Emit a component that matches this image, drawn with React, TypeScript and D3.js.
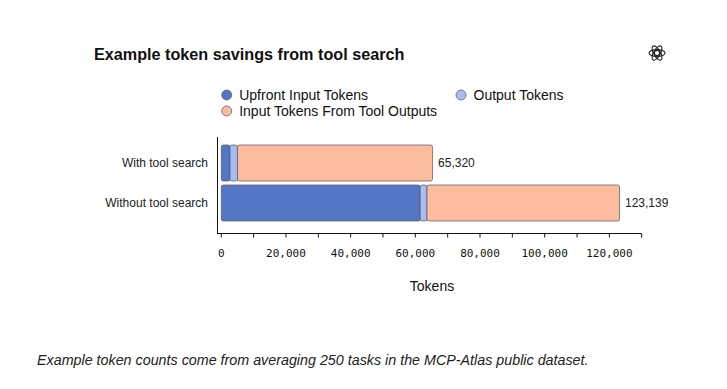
import React from "react";
import * as d3 from "d3";

const categories = ["With tool search", "Without tool search"];
const seriesNames = ["Upfront Input Tokens", "Output Tokens", "Input Tokens From Tool Outputs"];
const upfrontInput = [2700, 61500];
const outputTokens = [2300, 2100];
const toolOutputInput = [60320, 59539];
const xTicks = [0, 10000, 20000, 30000, 40000, 50000, 60000, 70000, 80000, 90000, 100000, 110000, 120000, 130000];
const xTickLabels = [0, 20000, 40000, 60000, 80000, 100000, 120000];
const colors = ["#5576C4", "#A6BEF6", "#FEBC9F"];

const W = 727;
const H = 389;

export default function App() {
  const x = d3.scaleLinear().domain([0, 130000]).range([221.3, 641.7]);
  const y = d3.scaleBand<string>().domain(categories).range([145, 221]).paddingInner(0.1);
  const rows = categories.map((c, i) => ({
    cat: c,
    upfront: upfrontInput[i],
    output: outputTokens[i],
    tool: toolOutputInput[i],
  }));
  const stack = d3.stack<any>().keys(["upfront", "output", "tool"])(rows);
  const fmt = d3.format(",");
  const axisY = 233.5;
  const sans = "'Liberation Sans', Arial, sans-serif";
  const mono = "'DejaVu Sans Mono', monospace";

  return (
    <svg width={W} height={H} style={{ position: "absolute", left: 0, top: 0, background: "#fff" }}>
      <rect width={W} height={H} fill="#fff" />
      <text x={94} y={60} fontFamily={sans} fontWeight={700} fontSize={16.2} fill="#111">
        Example token savings from tool search
      </text>
      {/* icon */}
      <g transform="translate(657,53)" fill="none" stroke="#222" strokeWidth={1.1}>
        {[0, 60, 120].map((a) => (
          <ellipse key={a} cx={0} cy={0} rx={8} ry={3.4} transform={`rotate(${a})`} />
        ))}
        <circle r={2.6} />
      </g>
      {/* legend */}
      {[
        { i: 0, cx: 226.7, cy: 95 },
        { i: 1, cx: 461, cy: 95 },
        { i: 2, cx: 226.7, cy: 111 },
      ].map(({ i, cx, cy }) => (
        <g key={i}>
          <circle cx={cx} cy={cy} r={5} fill={colors[i]} stroke="#666" strokeWidth={0.8} />
          <text x={cx + 12.5} y={cy + 5} fontFamily={sans} fontSize={14} fill="#111">
            {seriesNames[i]}
          </text>
        </g>
      ))}
      {/* bars */}
      {stack.map((s, si) => (
        <g key={si}>
          {s.map((d, di) => (
            <rect
              key={di}
              x={x(d[0])}
              y={y(categories[di])!}
              width={x(d[1]) - x(d[0])}
              height={y.bandwidth()}
              rx={2}
              fill={colors[si]}
              stroke="#555"
              strokeOpacity={0.7}
              strokeWidth={1}
            />
          ))}
        </g>
      ))}
      {/* category labels */}
      {categories.map((c) => (
        <text
          key={c}
          x={208}
          y={y(c)! + y.bandwidth() / 2 + 4}
          textAnchor="end"
          fontFamily={sans}
          fontSize={12}
          fill="#222"
        >
          {c}
        </text>
      ))}
      {/* totals */}
      {rows.map((r) => {
        const tot = r.upfront + r.output + r.tool;
        return (
          <text
            key={r.cat}
            x={x(tot) + 5.5}
            y={y(r.cat)! + y.bandwidth() / 2 + 4}
            fontFamily={sans}
            fontSize={12}
            fill="#222"
          >
            {fmt(tot)}
          </text>
        );
      })}
      {/* axes */}
      <line x1={217.5} x2={217.5} y1={137} y2={axisY} stroke="#111" strokeWidth={1} />
      <line x1={217} x2={x(130000)} y1={axisY} y2={axisY} stroke="#111" strokeWidth={1} />
      {xTicks.map((t) => (
        <line key={t} x1={x(t)} x2={x(t)} y1={axisY} y2={axisY + 4} stroke="#111" strokeWidth={1} />
      ))}
      {xTickLabels.map((t) => (
        <text key={t} x={x(t)} y={257} textAnchor="middle" fontFamily={mono} fontSize={11} fill="#111">
          {fmt(t)}
        </text>
      ))}
      <text x={432} y={291} textAnchor="middle" fontFamily={sans} fontSize={14} fill="#111">
        Tokens
      </text>
      <text x={37} y={365} fontFamily={sans} fontStyle="italic" fontSize={14.3} fill="#222">
        Example token counts come from averaging 250 tasks in the MCP-Atlas public dataset.
      </text>
    </svg>
  );
}
